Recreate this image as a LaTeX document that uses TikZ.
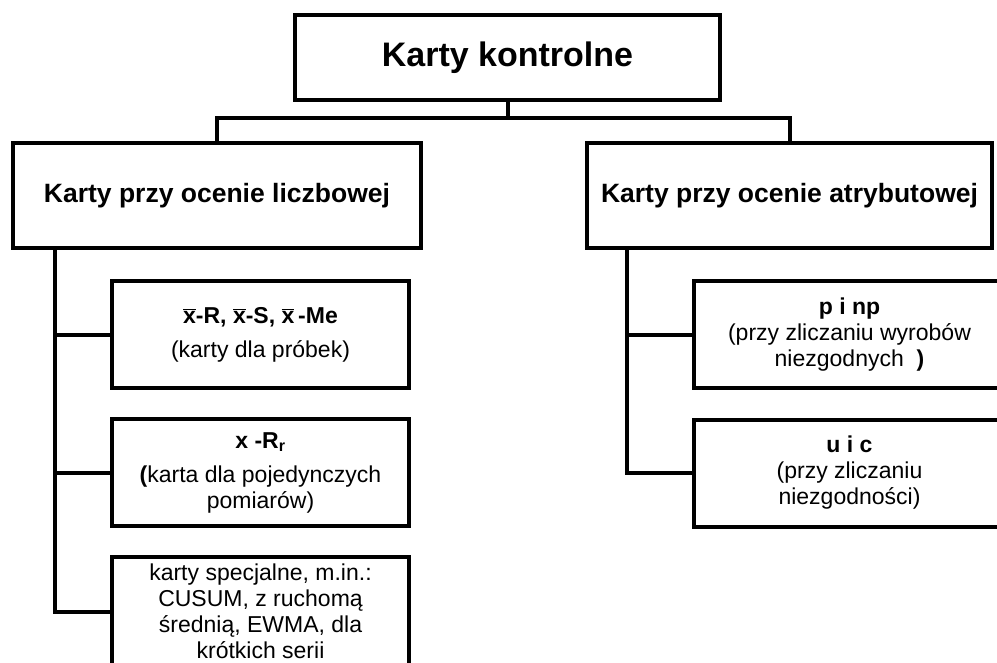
\documentclass[tikz,border=0pt]{standalone}
\usepackage{fontspec}
\setmainfont{Liberation Sans}
\usetikzlibrary{positioning,calc}

\tikzset{
  box/.style={draw, line width=4pt, align=center, inner sep=2pt, font=\fontsize{23}{26}\selectfont},
  titlebox/.style={box, minimum width=425pt, minimum height=85pt, font=\fontsize{34}{40}\selectfont\bfseries},
  groupbox/.style={box, minimum height=105pt, font=\fontsize{26.5}{30}\selectfont\bfseries},
  chartbox/.style={box, minimum width=297pt, minimum height=107pt},
  link/.style={line width=4pt},
}
\newcommand{\xbar}{$\overline{\mbox{x}}$}

\begin{document}
\begin{tikzpicture}[x=1pt,y=-1pt]
\useasboundingbox (0,0) rectangle (997,662);

% Root and the two groups
\node[titlebox] (karty) at (507.5,57.5) {Karty kontrolne};
\node[groupbox, minimum width=408pt] (liczb) at (217,195.5) {Karty przy ocenie liczbowej};
\node[groupbox, minimum width=405pt] (atryb) at (789.5,195.5) {Karty przy ocenie atrybutowej};

% Charts for measured values
\node[chartbox] (xsr) at (260.5,334.5) {\textbf{\xbar-R, \xbar-S, \xbar\,-Me}\\[8pt](karty dla próbek)};
\node[chartbox] (xrr) at (260.5,472.5) {\textbf{x -R\textsubscript{r}}\\[8pt]\textbf{(}karta dla pojedynczych\\pomiarów)};
\node[chartbox, minimum height=109pt] (spec) at (260.5,611.5) {karty specjalne, m.in.:\\CUSUM, z ruchomą\\średnią, EWMA, dla\\krótkich serii};

% Charts for attributes
\node[chartbox, minimum width=311pt] (pnp) at (849.5,334.5) {\textbf{p i np}\\(przy zliczaniu wyrobów\\niezgodnych~ \textbf{)}};
\node[chartbox, minimum width=311pt] (uc) at (849.5,473) {\textbf{u i c}\\(przy zliczaniu\\niezgodności)};

% Connectors
\coordinate (bar) at (0,118);
\coordinate (lspine) at (55,0);
\coordinate (rspine) at (627,0);
\draw[link] (karty.south) -- (karty.south |- bar);
\draw[link] (liczb.north) -- (liczb.north |- bar) -- (atryb.north |- bar) -- (atryb.north);
\draw[link] (lspine |- liczb.south) -- (lspine |- spec.west) -- (spec.west);
\draw[link] (lspine |- xsr.west) -- (xsr.west);
\draw[link] (lspine |- xrr.west) -- (xrr.west);
\draw[link] (rspine |- atryb.south) -- (rspine |- uc.west) -- (uc.west);
\draw[link] (rspine |- pnp.west) -- (pnp.west);

\end{tikzpicture}
\end{document}
